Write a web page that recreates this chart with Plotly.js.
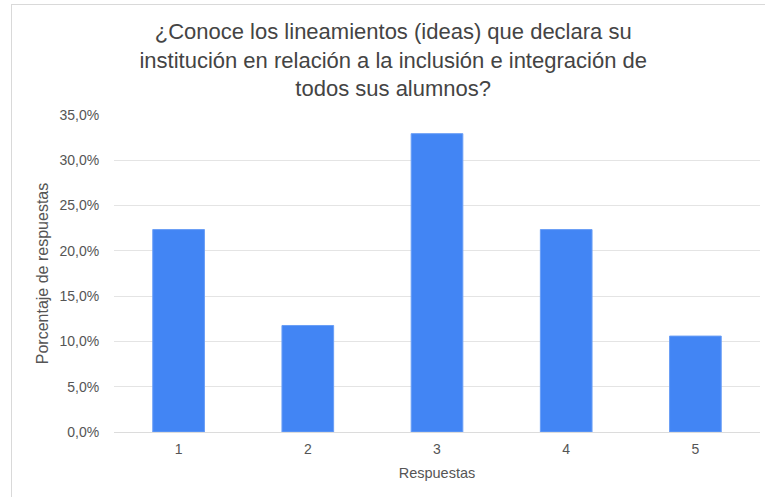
<!DOCTYPE html>
<html>
<head>
<meta charset="utf-8">
<script src="https://cdn.plot.ly/plotly-3.0.1.min.js"></script>
<style>
  html, body { margin: 0; padding: 0; background: #fff; }
  #wrap { position: relative; width: 765px; height: 497px; overflow: hidden; }
  #frame { position: absolute; left: 11px; top: 4px; width: 800px; height: 600px;
           border-left: 1px solid #d9d9d9; border-top: 1px solid #d9d9d9; pointer-events: none; }
  #chart { position: absolute; left: 0; top: 0; width: 765px; height: 497px; }
</style>
</head>
<body>
<div id="wrap">
  <div id="chart"></div>
  <div id="frame"></div>
</div>
<script>
const categories = ["1", "2", "3", "4", "5"];
const shares = [0.2235, 0.1176, 0.3294, 0.2235, 0.1059];
const yTicks = [0, 0.05, 0.10, 0.15, 0.20, 0.25, 0.30, 0.35];
const titleText = "¿Conoce los lineamientos (ideas) que declara su<br>institución en relación a la inclusión e integración de<br>todos sus alumnos?";
const xTitle = "Respuestas";
const yTitle = "Porcentaje de respuestas";

const font = "Liberation Sans, Arial, sans-serif";

Plotly.newPlot("chart", [{
  type: "bar",
  x: categories,
  y: shares,
  marker: { color: "#4285F4", line: { color: "#6a9ef6", width: 1 } },
  hoverinfo: "none"
}], {
  width: 765, height: 497,
  margin: { l: 114, r: 5, t: 115, b: 65 },
  paper_bgcolor: "#ffffff",
  plot_bgcolor: "#ffffff",
  separators: ",.",
  bargap: 0.6,
  font: { family: font, color: "#555555", size: 13 },
  title: {
    text: titleText,
    font: { family: font, size: 22, color: "#444444" },
    xref: "container", x: 0.514, xanchor: "center",
    yref: "container", y: 0.921, yanchor: "middle"
  },
  xaxis: {
    type: "category",
    showgrid: false,
    showline: false,
    zeroline: false,
    ticks: "outside",
    ticklen: 4,
    tickcolor: "rgba(0,0,0,0)",
    tickfont: { family: font, size: 14, color: "#555555" },
    title: { text: xTitle, font: { family: font, size: 14.5, color: "#555555" }, standoff: 12 }
  },
  yaxis: {
    range: [0, 0.35],
    tickvals: yTicks,
    tickformat: ".1%",
    showgrid: true,
    gridcolor: "#e4e4e4",
    gridwidth: 1,
    zeroline: true,
    zerolinecolor: "#dcdcdc",
    zerolinewidth: 1,
    showline: false,
    ticks: "outside",
    ticklen: 11,
    tickcolor: "rgba(0,0,0,0)",
    tickfont: { family: font, size: 14, color: "#555555" },
    title: { text: yTitle, font: { family: font, size: 16, color: "#555555" }, standoff: 6 }
  },
  showlegend: false
}, { displayModeBar: false, staticPlot: true });
</script>
</body>
</html>
